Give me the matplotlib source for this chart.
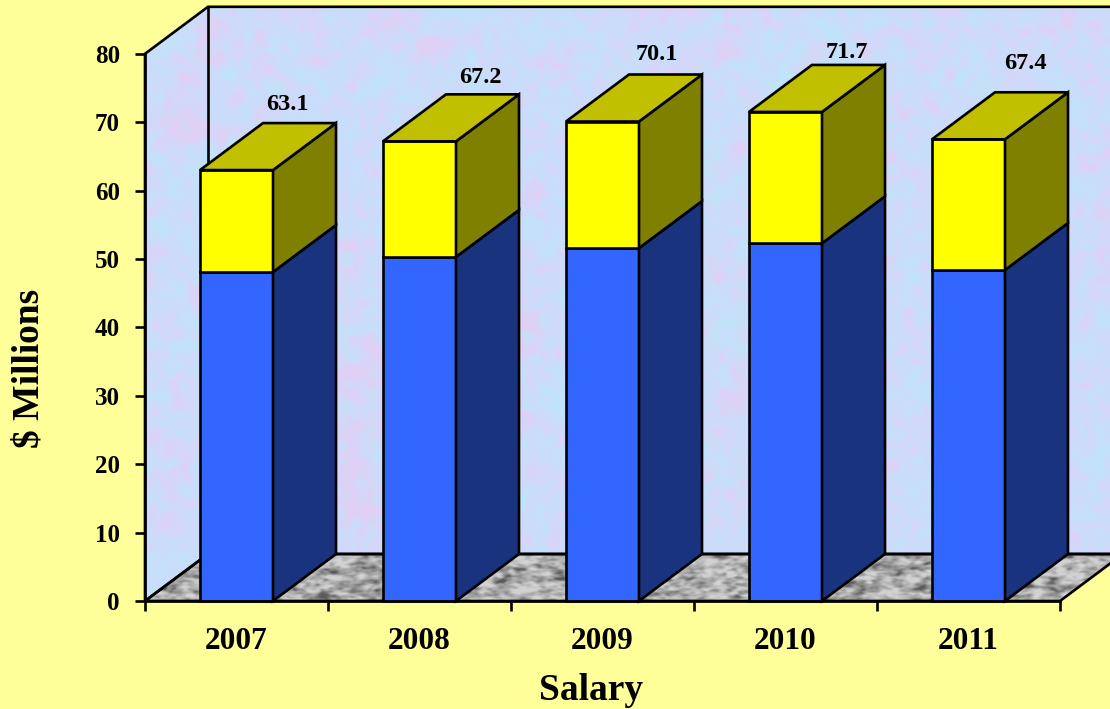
import numpy as np
import matplotlib
matplotlib.use("Agg")
import matplotlib.pyplot as plt
from matplotlib.colors import LinearSegmentedColormap
from matplotlib.patches import Polygon

years = ["2007", "2008", "2009", "2010", "2011"]
salary = [48.1, 50.3, 51.6, 52.3, 48.4]
totals = [63.0, 67.2, 70.1, 71.5, 67.5]
total_labels = ["63.1", "67.2", "70.1", "71.7", "67.4"]
y_ticks = [0, 10, 20, 30, 40, 50, 60, 70, 80]

plt.rcParams['font.family'] = ['Liberation Serif', 'DejaVu Serif']
plt.rcParams['font.weight'] = 'bold'

BG = "#FFFF99"
LW = 1.9
PX_X = 183.0   # pixels per category
PX_Y = 6.84    # pixels per $ million
dx = 63 / PX_X   # depth of the 3d box
dy = 47 / PX_Y
bar_w = 73 / PX_X

# label nudges from the top of each box, in pixels
label_dx = [51, 61, 54, 61, 57]
label_dy = [19, 17, 20, 12, 29]


def texture(colors, size, blur, seed):
    # decoration only, mottled fill for wall and floor
    rng = np.random.default_rng(seed)
    noise = rng.normal(size=size)
    fy = np.fft.fftfreq(size[0])[:, None]
    fx = np.fft.fftfreq(size[1])[None, :]
    out = np.zeros(size)
    for b, w in blur:
        g = np.exp(-2 * (np.pi * b) ** 2 * (fx ** 2 + fy ** 2))
        part = np.fft.ifft2(np.fft.fft2(noise) * g).real
        out = out + w * part / part.std()
    out = (out - out.mean()) / out.std()
    return out, LinearSegmentedColormap.from_list("tx", colors)


fig = plt.figure(figsize=(11.1, 7.09), dpi=100, facecolor=BG)
ax = fig.add_axes([0, 0, 1, 1], facecolor="none")

xlim = (-145 / PX_X, (1110 - 145) / PX_X)
ylim = ((601 - 709) / PX_Y, 601 / PX_Y)
n = len(years)

# walls
wall, wall_cmap = texture(["#C0E4F8", "#C6E0FA", "#CCDCFA", "#D6D6F8", "#E0D0F4"],
                          (600, 1000), [(2, 1.0), (6, 1.0), (20, 0.6)], 3)
wall_pts = [(0, 0), (0, 80), (dx, 80 + dy), (n + dx, 80 + dy), (n + dx, dy), (dx, dy)]
im = ax.imshow(wall, cmap=wall_cmap, vmin=-2.6, vmax=2.6, aspect='auto',
               interpolation='bilinear', extent=(0, n + dx, 0, 80 + dy), zorder=1)
im.set_clip_path(Polygon(wall_pts, transform=ax.transData))
ax.add_patch(Polygon(wall_pts, closed=True, fill=False, ec="black", lw=LW, zorder=2))
ax.plot([dx, dx], [dy, 80 + dy], color="black", lw=LW, zorder=2)

# floor
floor, floor_cmap = texture(["#5A5A5A", "#8E8E8E", "#B4B4B4", "#D2D2D2"],
                            (120, 1000), [(2, 1.0), (5, 1.0)], 8)
floor_pts = [(0, 0), (n, 0), (n + dx, dy), (dx, dy)]
im2 = ax.imshow(floor, cmap=floor_cmap, vmin=-2.4, vmax=1.6, aspect='auto',
                interpolation='bilinear', extent=(0, n + dx, 0, dy), zorder=1)
im2.set_clip_path(Polygon(floor_pts, transform=ax.transData))
ax.add_patch(Polygon(floor_pts, closed=True, fill=False, ec="black", lw=LW, zorder=2))

# bars
centers = np.arange(n) + 0.5
for i, c in enumerate(centers):
    z = 3 + i
    left, right = c - bar_w / 2, c + bar_w / 2
    b, t = salary[i], totals[i]
    ax.bar(c, b, bar_w, color="#3366FF", edgecolor="black", linewidth=LW, zorder=z)
    ax.bar(c, t - b, bar_w, bottom=b, color="#FFFF00", edgecolor="black", linewidth=LW, zorder=z)
    ax.fill([right, right + dx, right + dx, right], [0, dy, b + dy, b],
            fc="#1A337F", ec="black", lw=LW, zorder=z)
    ax.fill([right, right + dx, right + dx, right], [b, b + dy, t + dy, t],
            fc="#808000", ec="black", lw=LW, zorder=z)
    ax.fill([left, left + dx, right + dx, right], [t, t + dy, t + dy, t],
            fc="#C0C000", ec="black", lw=LW, zorder=z)
    ax.text(c + label_dx[i] / PX_X, t + dy + label_dy[i] / PX_Y, total_labels[i],
            ha='center', va='center', fontsize=17.5, fontweight='bold', color="black", zorder=20)

# axes
for s in ['top', 'right']:
    ax.spines[s].set_visible(False)
ax.spines['left'].set_position(('data', 0))
ax.spines['bottom'].set_position(('data', 0))
ax.spines['left'].set_bounds(0, 80)
ax.spines['bottom'].set_bounds(0, n)
ax.spines['left'].set_linewidth(LW)
ax.spines['bottom'].set_linewidth(LW)
ax.spines['left'].set_zorder(15)
ax.spines['bottom'].set_zorder(15)

ax.set_yticks(y_ticks)
ax.set_yticklabels([str(v) for v in y_ticks], fontsize=18, fontweight='bold')
ax.tick_params(axis='y', length=7, width=LW, pad=11)
ax.set_xticks(np.arange(n + 1))
ax.set_xticklabels([])
ax.tick_params(axis='x', length=7, width=LW)
ax.set_xticks(centers, minor=True)
ax.set_xticklabels(years, minor=True, fontsize=22.5, fontweight='bold')
ax.tick_params(axis='x', which='minor', length=0, pad=18.5)

ax.set_xlim(*xlim)
ax.set_ylim(*ylim)

fig.text(591 / 1110, 1 - 690 / 709, "Salary", ha='center', va='center',
         fontsize=27, fontweight='bold')
fig.text(29 / 1110, 1 - 368 / 709, "$ Millions", ha='center', va='center',
         rotation=90, fontsize=27, fontweight='bold', parse_math=False)

fig.savefig("out.png", dpi=100, facecolor=BG)
